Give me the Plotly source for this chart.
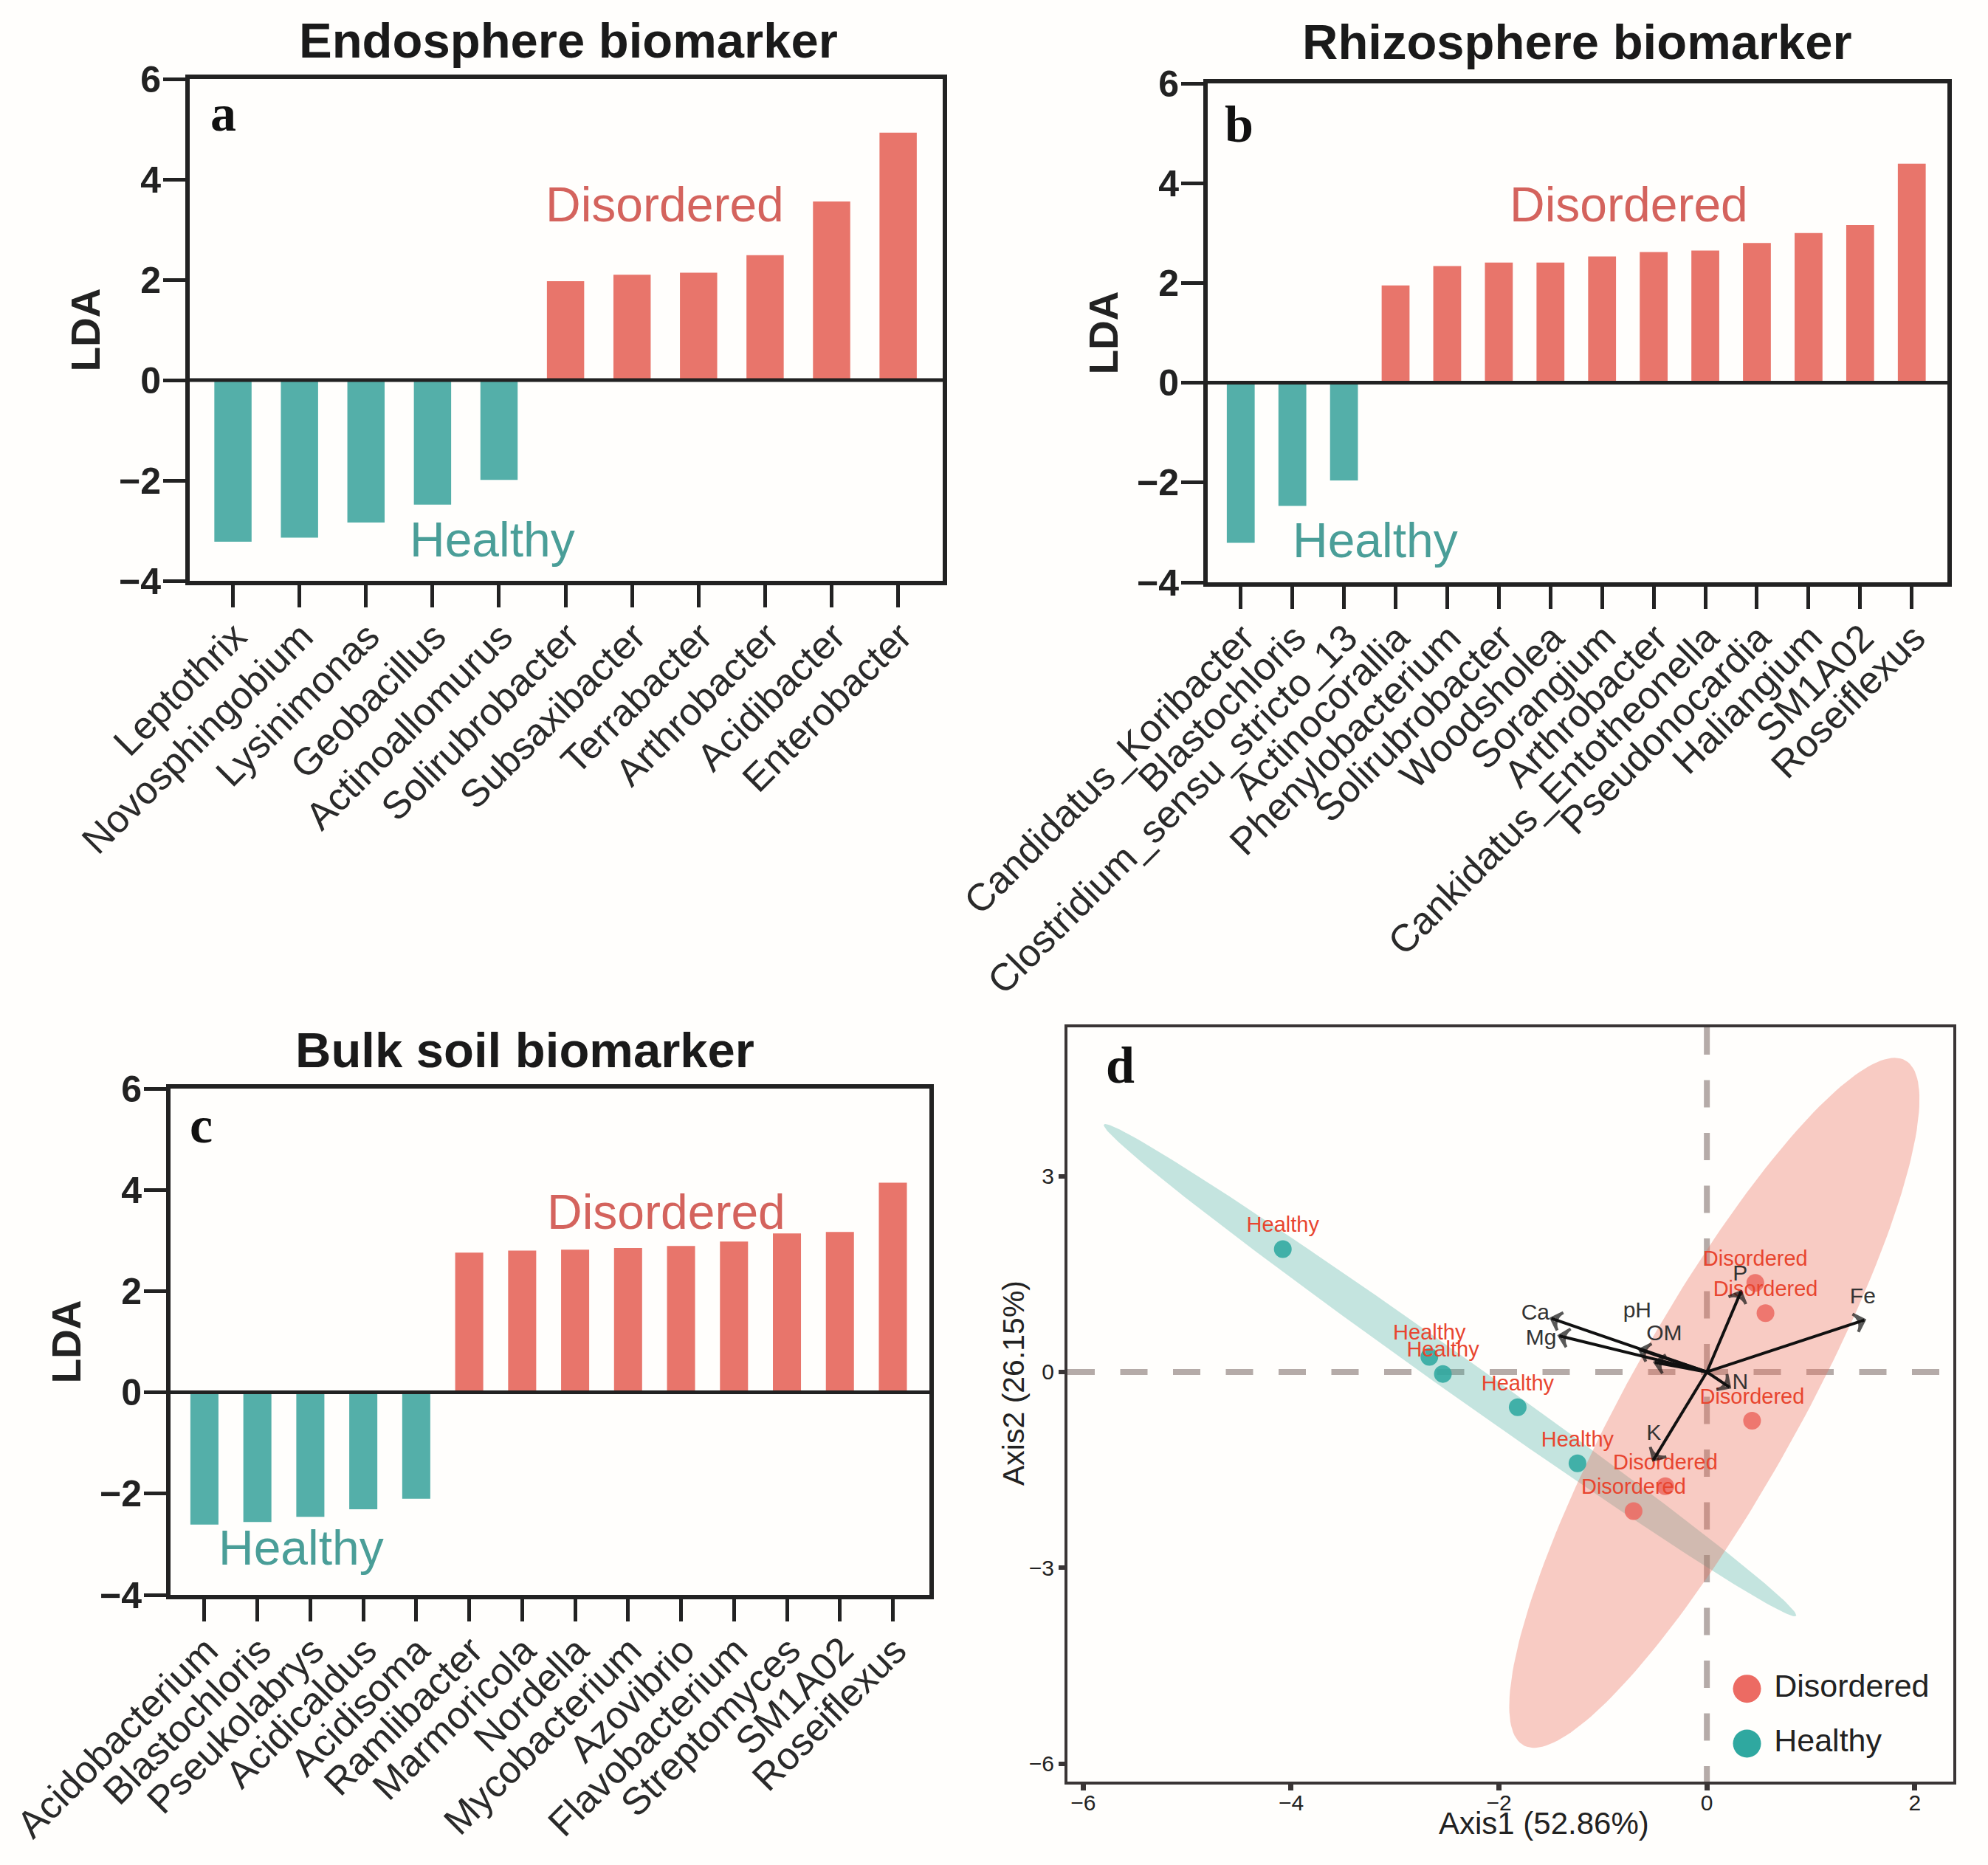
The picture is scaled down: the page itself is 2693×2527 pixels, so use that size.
import numpy as np
import plotly.graph_objects as go

W, H = 2693, 2527
SANS = "Liberation Sans"
SERIF = "Liberation Serif"
INK = "#222222"
RED_BAR = "#E8756B"
TEAL_BAR = "#54AFA9"
RED_TXT = "#D4635D"
TEAL_TXT = "#4A9E98"

# panel a
endo_genera = ["Leptothrix", "Novosphingobium", "Lysinimonas", "Geobacillus", "Actinoallomurus",
               "Solirubrobacter", "Subsaxibacter", "Terrabacter", "Arthrobacter", "Acidibacter",
               "Enterobacter"]
endo_lda = [-3.22, -3.14, -2.84, -2.48, -1.99, 1.97, 2.10, 2.14, 2.49, 3.56, 4.93]

# panel b
rhizo_genera = ["Candidatus_Koribacter", "Blastochloris", "Clostridium_sensu_stricto_13",
                "Actinocorallia", "Phenylobacterium", "Solirubrobacter", "Woodsholea", "Sorangium",
                "Arthrobacter", "Cankidatus_Entotheonella", "Pseudonocardia", "Haliangium",
                "SM1A02", "Roseiflexus"]
rhizo_lda = [-3.21, -2.47, -1.96, 1.95, 2.34, 2.41, 2.41, 2.53, 2.62, 2.65, 2.80, 3.00, 3.16, 4.39]

# panel c
bulk_genera = ["Acidobacterium", "Blastochloris", "Pseukolabrys", "Acidicaldus", "Acidisoma",
               "Ramlibacter", "Marmoricola", "Nordella", "Mycobacterium", "Azovibrio",
               "Flavobacterium", "Streptomyces", "SM1A02", "Roseiflexus"]
bulk_lda = [-2.61, -2.56, -2.46, -2.31, -2.10, 2.76, 2.80, 2.82, 2.85, 2.89, 2.98, 3.14, 3.17, 4.14]

# panel d, samples
healthy_x = [-4.08, -2.67, -2.54, -1.82, -1.245]
healthy_y = [1.88, 0.23, -0.03, -0.54, -1.40]
disordered_x = [0.466, 0.564, 0.435, -0.40, -0.705]
disordered_y = [1.365, 0.90, -0.745, -1.75, -2.13]

# panel d, environmental arrows
env_names = ["Ca", "Mg", "pH", "OM", "P", "Fe", "N", "K"]
env_x = [-1.496, -1.42, -0.645, -0.50, 0.327, 1.515, 0.218, -0.514]
env_y = [0.82, 0.554, 0.34, 0.147, 1.227, 0.795, -0.233, -1.346]
env_label_x = [-1.65, -1.595, -0.67, -0.41, 0.32, 1.50, 0.32, -0.51]
env_label_y = [0.885, 0.505, 0.92, 0.57, 1.49, 1.13, -0.17, -0.96]


def px_x(x):
    return x / W


def px_y(y):
    return 1 - y / H


def covariance_ellipse(xs, ys, scale):
    # same idea as stat_ellipse: covariance of the points, scaled up
    cov = np.cov(xs, ys)
    vals, vecs = np.linalg.eigh(cov)
    t = np.linspace(0, 2 * np.pi, 200)
    unit = np.column_stack([np.cos(t), np.sin(t)])
    pts = unit * np.sqrt(vals) * scale
    pts = pts @ vecs.T
    return pts[:, 0] + np.mean(xs), pts[:, 1] + np.mean(ys)


def text_at(x, y, text, size, color=INK, family=SANS, weight="normal", angle=0):
    fig.add_annotation(xref="paper", yref="paper", x=px_x(x), y=px_y(y), text=text,
                       showarrow=False, xanchor="center", yanchor="middle", textangle=angle,
                       font=dict(family=family, size=size, color=color, weight=weight))


fig = go.Figure()


def bar_panel(suffix, genera, lda, box, x_range, bar_width, title, title_xy, letter, letter_xy,
              dis_xy, hea_xy):
    left, right, top, bottom = box
    colors = [TEAL_BAR if v < 0 else RED_BAR for v in lda]
    fig.add_trace(go.Bar(x=genera, y=lda, width=bar_width, marker=dict(color=colors, line_width=0),
                         xaxis="x" + suffix, yaxis="y" + suffix, showlegend=False))
    fig.update_layout({
        "xaxis" + suffix: dict(
            domain=[px_x(left), px_x(right)], anchor="y" + suffix, range=x_range,
            type="category", categoryorder="array", categoryarray=genera,
            tickmode="array", tickvals=genera, tickangle=-45,
            tickfont=dict(family=SANS, size=52, color="#2a2a2a"),
            ticklabelstandoff=-12, ticklabelshift=3,
            ticks="outside", ticklen=30, tickwidth=5, tickcolor=INK,
            showline=True, linewidth=6, linecolor=INK, mirror=True, showgrid=False, automargin=False),
        "yaxis" + suffix: dict(
            domain=[px_y(bottom), px_y(top)], anchor="x" + suffix, range=[-4, 6],
            tickvals=[-4, -2, 0, 2, 4, 6],
            tickfont=dict(family=SANS, size=50, color=INK, weight="bold"),
            ticklabelstandoff=-7,
            ticks="outside", ticklen=30, tickwidth=5, tickcolor=INK,
            showline=True, linewidth=6, linecolor=INK, mirror=True, showgrid=False,
            zeroline=False, automargin=False,
            title=dict(text="LDA", standoff=10, font=dict(family=SANS, size=55, color=INK, weight="bold"))),
    })
    ref = "x" + suffix + " domain"
    fig.add_shape(type="line", xref=ref, yref="y" + suffix, x0=0, x1=1, y0=0, y1=0,
                  line=dict(color=INK, width=5), layer="above")
    text_at(title_xy[0], title_xy[1], title, 67, "#1a1a1a", weight="bold")
    text_at(letter_xy[0], letter_xy[1], letter, 70, "#111111", SERIF, "bold")
    text_at(dis_xy[0], dis_xy[1], "Disordered", 66, RED_TXT)
    text_at(hea_xy[0], hea_xy[1], "Healthy", 66, TEAL_TXT)


bar_panel("", endo_genera, endo_lda, (257, 1277, 107, 787), [-0.65, 10.67], 0.56,
          "Endosphere biomarker", (770, 55), "a", (302, 154), (901, 277), (667, 731))
bar_panel("2", rhizo_genera, rhizo_lda, (1636, 2638, 113, 789), [-0.64, 13.69], 0.54,
          "Rhizosphere biomarker", (2136, 56), "b", (1678, 168), (2206, 277), (1863, 732))
bar_panel("3", bulk_genera, bulk_lda, (231, 1259, 1475, 2161), [-0.64, 13.69], 0.53,
          "Bulk soil biomarker", (711, 1422), "c", (272, 1524), (902, 1642), (408, 2097))

# panel d
ex, ey = covariance_ellipse(healthy_x, healthy_y, 3.12)
fig.add_trace(go.Scatter(x=ex, y=ey, mode="lines", fill="toself", line_width=0,
                         fillcolor="rgba(60,170,155,0.30)", xaxis="x4", yaxis="y4",
                         hoverinfo="skip", showlegend=False))
ex, ey = covariance_ellipse(disordered_x, disordered_y, 3.39)
fig.add_trace(go.Scatter(x=ex, y=ey, mode="lines", fill="toself", line_width=0,
                         fillcolor="rgba(236,110,90,0.35)", xaxis="x4", yaxis="y4",
                         hoverinfo="skip", showlegend=False))

for name, xs, ys, col in [("Healthy", healthy_x, healthy_y, "#2FA8A0"),
                          ("Disordered", disordered_x, disordered_y, "#EC6B63")]:
    fig.add_trace(go.Scatter(x=xs, y=ys, mode="markers+text", text=[name] * len(xs),
                             textposition="top center",
                             textfont=dict(family=SANS, size=29, color="#E8452F"),
                             marker=dict(size=24, color=col, opacity=0.88),
                             xaxis="x4", yaxis="y4", showlegend=False))

for ax, ay in zip(env_x, env_y):
    fig.add_trace(go.Scatter(x=[0, ax], y=[0, ay], mode="lines+markers",
                             line=dict(color="#111111", width=4),
                             marker=dict(symbol="arrow-wide-open", angleref="previous", size=[0, 18],
                                         color="#111111", line=dict(color="#111111", width=4)),
                             xaxis="x4", yaxis="y4", hoverinfo="skip", showlegend=False))

fig.add_trace(go.Scatter(x=env_label_x, y=env_label_y, mode="text", text=env_names,
                         textfont=dict(family=SANS, size=30, color="#333333"),
                         xaxis="x4", yaxis="y4", showlegend=False))

# legend keys, big circles so not the built-in legend
fig.add_trace(go.Scatter(x=[0.386, 0.386], y=[-4.85, -5.69], mode="markers+text",
                         text=[" Disordered", " Healthy"], textposition="middle right",
                         textfont=dict(family=SANS, size=43, color="#222222"),
                         marker=dict(size=38, color=["#EC6B63", "#2FA8A0"]),
                         xaxis="x4", yaxis="y4", showlegend=False))

DASH = dict(color="#B5ABA8", width=8, dash="37px,34.5px")
fig.add_shape(type="line", xref="x4 domain", yref="y4", x0=0, x1=1, y0=0, y1=0, line=DASH, layer="below")
fig.add_shape(type="line", xref="x4", yref="y4 domain", x0=0, x1=0, y0=1, y1=0, line=DASH, layer="below")

fig.update_layout(
    xaxis4=dict(domain=[px_x(1446), px_x(2646)], anchor="y4", range=[-6.152, 2.371],
                tickvals=[-6, -4, -2, 0, 2], tickfont=dict(family=SANS, size=30, color="#222222"),
                ticklabelstandoff=-9,
                ticks="outside", ticklen=8, tickwidth=7, tickcolor="#3a3535",
                showline=True, linewidth=4, linecolor="#3a3535", mirror=True,
                showgrid=False, zeroline=False, automargin=False),
    yaxis4=dict(domain=[px_y(2414), px_y(1392)], anchor="x4", range=[-6.272, 5.277],
                tickvals=[-6, -3, 0, 3], tickfont=dict(family=SANS, size=30, color="#222222"),
                ticks="outside", ticklen=8, tickwidth=6, tickcolor="#3a3535",
                showline=True, linewidth=4, linecolor="#3a3535", mirror=True,
                showgrid=False, zeroline=False, automargin=False),
)
text_at(1517, 1443, "d", 70, "#111111", SERIF, "bold")
text_at(2091, 2470, "Axis1 (52.86%)", 42, "#222222")
text_at(1373, 1874, "Axis2 (26.15%)", 41, "#222222", angle=-90)

fig.update_layout(width=W, height=H, margin=dict(l=0, r=0, t=0, b=0), autosize=False,
                  paper_bgcolor="#FFFEFC", plot_bgcolor="#FFFEFC", bargap=0.45)

fig.write_html("out.html", config=dict(displayModeBar=False),
               post_script="document.body.style.margin='0';")
